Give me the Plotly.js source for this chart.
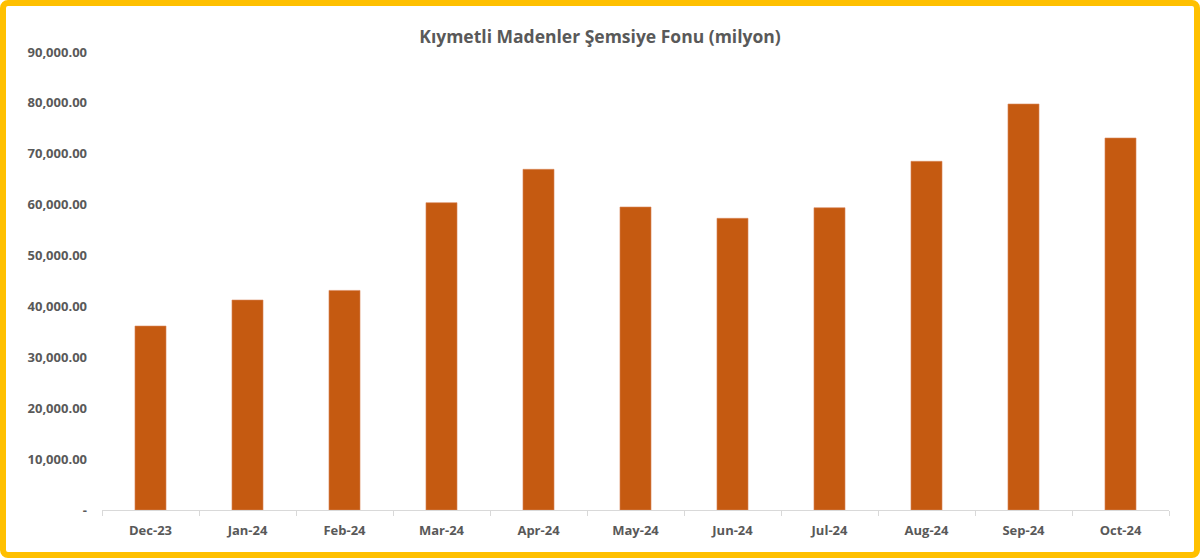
<!DOCTYPE html>
<html>
<head>
<meta charset="utf-8">
<script src="https://cdn.plot.ly/plotly-3.0.1.min.js"></script>
<style>
  html, body { margin: 0; padding: 0; background: #ffffff; }
  #wrap { position: relative; width: 1200px; height: 560px; overflow: hidden; }
  #chart { position: absolute; left: 0; top: 0; width: 1200px; height: 560px; }
  #frame { position: absolute; left: 0; top: 0; width: 1200px; height: 558px; box-sizing: border-box;
           border: 6px solid #FFC000; border-radius: 8px; pointer-events: none; }
</style>
</head>
<body>
<div id="wrap">
  <div id="chart"></div>
  <div id="frame"></div>
</div>
<script>
const months = ["Dec-23","Jan-24","Feb-24","Mar-24","Apr-24","May-24","Jun-24","Jul-24","Aug-24","Sep-24","Oct-24"];
const fundValues = [36150, 41260, 43150, 60390, 66950, 59540, 57320, 59400, 68520, 79780, 73100];
const yTickValues = [0, 10000, 20000, 30000, 40000, 50000, 60000, 70000, 80000, 90000];
const yTickLabels = ["-", "10,000.00", "20,000.00", "30,000.00", "40,000.00", "50,000.00", "60,000.00", "70,000.00", "80,000.00", "90,000.00"];
const chartTitle = "Kıymetli Madenler Şemsiye Fonu (milyon)";

const labelFont = { family: "'Open Sans', 'Noto Sans', sans-serif", size: 13, color: "#595959", weight: 700 };

const trace = {
  type: "bar",
  x: months,
  y: fundValues,
  marker: { color: "#C55A11", line: { color: "#D9875A", width: 0.6 } },
  hoverinfo: "x+y"
};

const layout = {
  width: 1200,
  height: 560,
  paper_bgcolor: "#ffffff",
  plot_bgcolor: "#ffffff",
  margin: { l: 102, r: 31, t: 52, b: 50 },
  bargap: 0.68,
  showlegend: false,
  title: {
    text: "<b>" + chartTitle + "</b>",
    font: { family: "'Open Sans', 'Noto Sans', sans-serif", size: 17.5, color: "#595959" },
    x: 0.5, xanchor: "center",
    y: 1 - 37 / 560, yref: "container", yanchor: "middle"
  },
  xaxis: {
    type: "category",
    showgrid: false,
    showline: true,
    linecolor: "#D9D9D9",
    linewidth: 1,
    ticks: "outside",
    tickson: "boundaries",
    ticklen: 5,
    tickcolor: "#D9D9D9",
    ticklabelstandoff: 8,
    tickfont: labelFont,
    zeroline: false
  },
  yaxis: {
    range: [0, 90000],
    tickvals: yTickValues,
    ticktext: yTickLabels,
    showgrid: false,
    showline: false,
    zeroline: false,
    ticks: "",
    ticklabelstandoff: 14,
    tickfont: labelFont
  }
};

Plotly.newPlot("chart", [trace], layout, { displayModeBar: false, staticPlot: true });
</script>
</body>
</html>
